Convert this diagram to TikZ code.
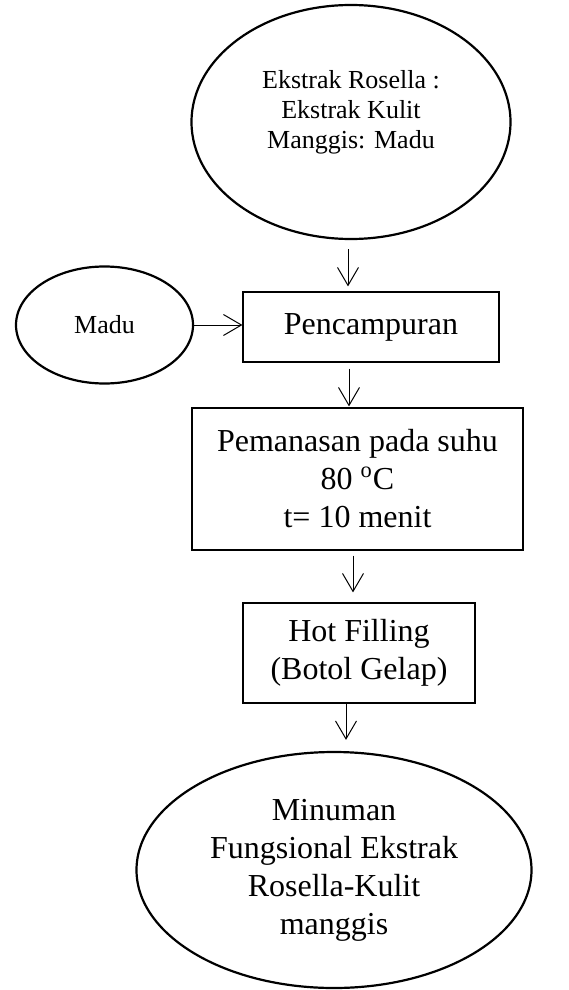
\documentclass[tikz,border=0pt]{standalone}
\usepackage{fontspec}
\setmainfont{Liberation Serif}
\usetikzlibrary{shapes.geometric,arrows.meta,calc}
\begin{document}
\begin{tikzpicture}[x=0.5pt,y=-0.5pt,
  oval/.style={draw,ellipse,line width=1.1pt,inner sep=0pt,align=center},
  stepbox/.style={draw,rectangle,line width=0.6pt,inner sep=0pt,align=center},
  bigtext/.style={font=\fontsize{16}{19}\selectfont},
  smalltext/.style={font=\fontsize{13}{15}\selectfont},
  arr/.style={-{Straight Barb[length=9pt,width=10.5pt]},line width=0.5pt}
]
\useasboundingbox (0,0) rectangle (568,990);

% input mixture
\node[oval,minimum width=159.5pt,minimum height=117pt] (src) at (351,122) {};
\node[smalltext,align=center] (srctext) at (351,112)
  {Ekstrak Rosella :\\Ekstrak Kulit\\Manggis: Madu};

% honey
\node[oval,smalltext,minimum width=88.5pt,minimum height=58.5pt] (madu) at (104.5,325) {Madu};

% process steps
\node[stepbox,bigtext,minimum width=128pt,minimum height=35pt] (mix) at (371,327) {Pencampuran};
\node[stepbox,bigtext,minimum width=165.5pt,minimum height=71pt] (heat) at (357.5,479)
  {Pemanasan pada suhu\\80 \textsuperscript{o}C\\t= 10 menit};
\node[stepbox,bigtext,minimum width=116pt,minimum height=50pt] (fill) at (359,653)
  {Hot Filling\\(Botol Gelap)};

% product
\node[oval,bigtext,minimum width=197.5pt,minimum height=118pt] (prod) at (334,870)
  {Minuman\\Fungsional Ekstrak\\Rosella-Kulit\\manggis};

% connectors
\draw[arr] ([shift={(-3,9)}]src.south) -- ([shift={(-23,-5)}]mix.north);
\draw[arr] (madu.east) -- (madu.east -| mix.west);
\draw[arr] ([shift={(-22,6)}]mix.south) -- ([shift={(-8.5,-1)}]heat.north);
\draw[arr] ([shift={(-4.5,5)}]heat.south) -- ([shift={(-6,-10)}]fill.north);
\draw[arr] ([shift={(-13,0)}]fill.south) -- ([shift={(12,-11)}]prod.north);
\end{tikzpicture}
\end{document}
